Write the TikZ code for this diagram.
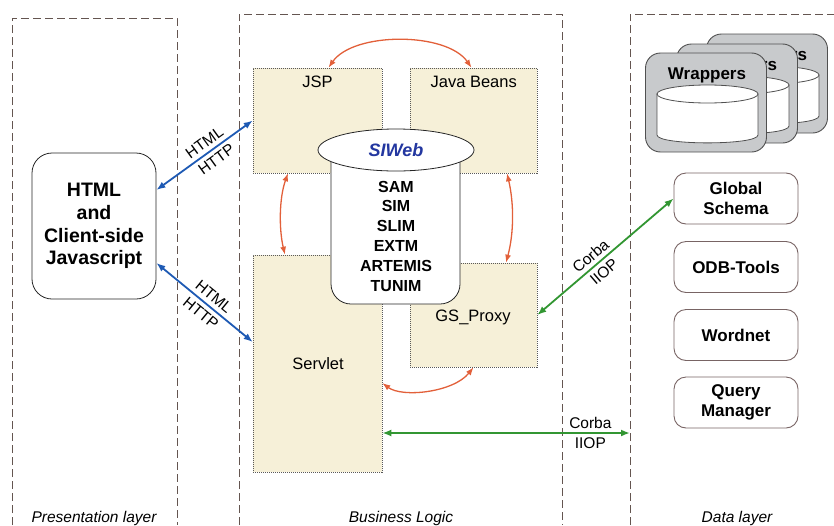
\documentclass[tikz,border=0pt]{standalone}
\usepackage{fontspec}
\setmainfont{Liberation Sans}
\usetikzlibrary{arrows.meta,shapes.geometric,calc}
\definecolor{beige}{RGB}{246,240,216}
\definecolor{layercol}{RGB}{100,85,80}
\definecolor{orangec}{RGB}{226,96,58}
\definecolor{bluec}{RGB}{30,90,180}
\definecolor{greenc}{RGB}{50,150,50}
\definecolor{cardgray}{RGB}{200,202,204}
\definecolor{cardline}{RGB}{80,80,80}
\definecolor{dataline}{RGB}{120,100,100}
\definecolor{siwebblue}{RGB}{35,55,160}
\begin{document}
\begin{tikzpicture}[x=1pt,y=-1pt,
  layerline/.style={draw=layercol, line width=0.9pt, dash pattern=on 8pt off 4pt},
  compbox/.style={draw=gray!70!black, fill=beige, dash pattern=on 1pt off 1pt, line width=0.6pt, inner sep=0pt},
  boxlabel/.style={anchor=base, inner sep=0pt, font=\fontsize{16.5}{18}\selectfont},
  orangearc/.style={draw=orangec, line width=1.3pt, {Latex[length=8pt,width=6pt]}-{Latex[length=8pt,width=6pt]}},
  bluearr/.style={draw=bluec, line width=1.8pt, {Latex[length=9pt,width=7pt]}-{Latex[length=9pt,width=7pt]}},
  greenarr/.style={draw=greenc, line width=1.8pt, {Latex[length=9pt,width=7pt]}-{Latex[length=9pt,width=7pt]}},
  connlabel/.style={align=center, inner sep=0pt, font=\fontsize{15.5}{20.5}\selectfont},
  datatool/.style={draw=dataline, rounded corners=12pt, fill=white, minimum width=124pt, minimum height=51pt, inner sep=0pt, align=center, line width=0.9pt, font=\fontsize{17}{19.5}\selectfont\bfseries},
  card/.style={draw=cardline, fill=cardgray, rounded corners=15pt, minimum width=121pt, minimum height=99pt, inner sep=0pt, line width=0.9pt},
  layerlabel/.style={anchor=base, inner sep=0pt, font=\fontsize{15.5}{17}\selectfont\itshape}
]
\useasboundingbox (0,0) rectangle (834,525);

% layers
\draw[layerline] (12,525) -- (12,18) -- (177,18) -- (177,525);
\draw[layerline] (239,525) -- (239,14) -- (562,14) -- (562,525);
\draw[layerline] (630,525) -- (630,14) -- (834,14);

\node[layerlabel] (lpres) at (94,522.7) {Presentation layer};
\node[layerlabel] (lbus) at (401,522.7) {Business Logic};
\node[layerlabel] (ldata) at (737,522.7) {Data layer};

% presentation
\node[draw=gray!30!black, line width=0.8pt, fill=white, rounded corners=20pt, minimum width=124pt, minimum height=146pt, inner sep=0pt, align=center, font=\fontsize{19.5}{22.8}\selectfont\bfseries] (html) at (94,226) {HTML\\and\\Client-side\\Javascript};

% business boxes
\node[compbox, minimum width=129pt, minimum height=105pt] (jsp) at (317.5,120.5) {};
\node[compbox, minimum width=127pt, minimum height=105pt] (jb) at (473.5,120.5) {};
\node[compbox, minimum width=129pt, minimum height=217pt] (servlet) at (317.5,363.5) {};
\node[compbox, minimum width=127pt, minimum height=104pt] (gs) at (473.5,315) {};

\node[boxlabel] (jspl) at (317.5,87.3) {JSP};
\node[boxlabel] (jbl) at (473.7,87.3) {Java Beans};
\node[boxlabel] (servletl) at (318,369.3) {Servlet};
\node[boxlabel] (gsl) at (473,321.7) {GS\_Proxy};

% SIWeb cylinder
\draw[draw=gray!30!black, line width=0.8pt, fill=white, rounded corners=20pt] (331,150) -- (331,304) -- (460,304) -- (460,150);
\node[ellipse, draw=gray!30!black, line width=0.8pt, fill=white, minimum width=156pt, minimum height=42pt, inner sep=0pt, font=\fontsize{18}{20}\selectfont\bfseries\itshape, text=siwebblue] (siweb) at (396,150) {SIWeb};
\node[align=center, inner sep=0pt, font=\fontsize{16}{19.8}\selectfont\bfseries] (modules) at (396,236) {SAM\\SIM\\SLIM\\EXTM\\ARTEMIS\\TUNIM};

% orange arcs
\draw[orangearc] ([xshift=11pt]jsp.north) .. controls +(25,-36) and +(-25,-36) .. ([xshift=-2pt]jb.north);
\draw[orangearc] ([xshift=-29.5pt]jsp.south) .. controls +(-9,25) and +(-6,-25) .. ([xshift=-32.5pt]servlet.north);
\draw[orangearc] ([xshift=33.5pt]jb.south) .. controls +(7,30) and +(8,-30) .. ([xshift=32.5pt]gs.north);
\draw[orangearc] ([yshift=-19.5pt]servlet.east) .. controls +(20,15) and +(-20,25) .. (gs.south);

% data layer
\foreach \dx/\dy/\n in {61/-19/c, 31/-9/b, 0/0/a} {
  \begin{scope}[shift={(706+\dx,102.5+\dy)}]
    \node[card] (card\n) at (0,0) {};
    \node[anchor=base, inner sep=0pt, font=\fontsize{17}{19}\selectfont\bfseries] (wrapl\n) at (1,-23.2) {Wrappers};
    \draw[draw=cardline, line width=0.8pt, fill=white] (-49,-8.5) -- (-49,32.5) .. controls (-49,43) and (52,43) .. (52,32.5) -- (52,-8.5) -- cycle;
    \node[ellipse, draw=cardline, line width=0.8pt, fill=white, minimum width=101pt, minimum height=18pt, inner sep=0pt] (cyl\n) at (1.5,-8.5) {};
  \end{scope}
}

\node[datatool] (gschema) at (736,198.5) {Global\\Schema};
\node[datatool] (odb) at (736,267) {ODB-Tools};
\node[datatool] (wordnet) at (736,335) {Wordnet};
\node[datatool] (qm) at (736,402.5) {Query\\Manager};

\coordinate (dataedge) at (630,433);

% blue connectors
\draw[bluearr] ([yshift=36pt]html.east) -- (jsp.west) node[connlabel, sloped, pos=0.56] (lab1) {HTML\\HTTP};
\draw[bluearr] ([yshift=-37pt]html.east) -- ([yshift=21.5pt]servlet.west) node[connlabel, sloped, pos=0.53] (lab2) {HTML\\HTTP};

% green connectors
\draw[greenarr] (gs.east) -- (gschema.west) node[connlabel, sloped, pos=0.44] (lab3) {Corba\\IIOP};
\draw[greenarr] ([yshift=-69.5pt]servlet.east) -- (dataedge) node[connlabel, pos=0.84] (lab4) {Corba\\IIOP};

\end{tikzpicture}
\end{document}
